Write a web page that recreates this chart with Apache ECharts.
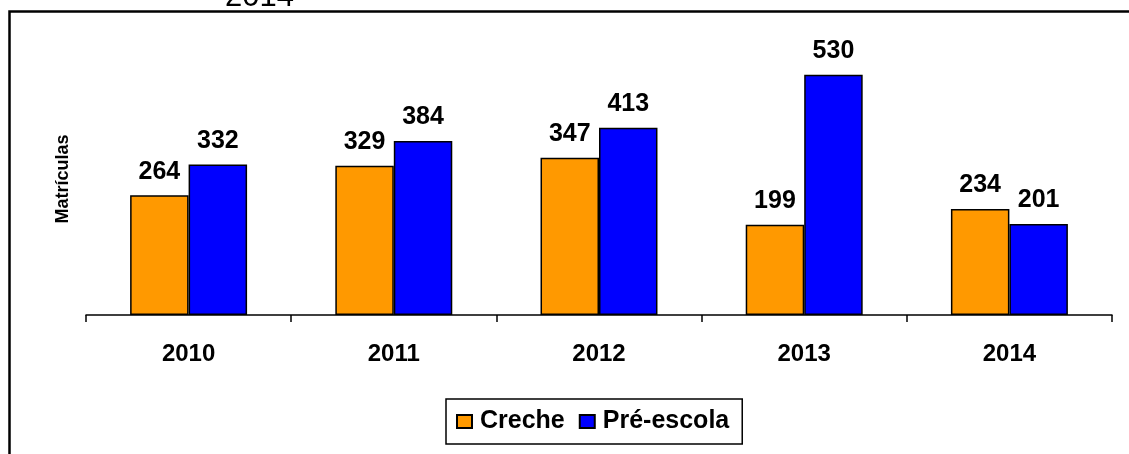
<!DOCTYPE html>
<html>
<head>
<meta charset="utf-8">
<script src="https://cdn.jsdelivr.net/npm/echarts@6/dist/echarts.min.js"></script>
<style>
  html, body { margin: 0; padding: 0; background: #fff; }
  #chart { width: 1129px; height: 454px; }
</style>
</head>
<body>
<div id="chart"></div>
<script>
  var years = ['2010', '2011', '2012', '2013', '2014'];
  var creche = [264, 329, 347, 199, 234];
  var preEscola = [332, 384, 413, 530, 201];

  var font = 'Liberation Sans, Arial, sans-serif';
  var chart = echarts.init(document.getElementById('chart'));

  chart.setOption({
    animation: false,
    textStyle: { fontFamily: font },
    title: {
      text: '2014',
      left: 220,
      top: -23,
      textStyle: { fontSize: 31, fontWeight: 'normal', color: '#000', fontFamily: font }
    },
    graphic: [{
      type: 'rect',
      shape: { x: 9.5, y: 11.5, width: 1140, height: 460 },
      style: { fill: null, stroke: '#000', lineWidth: 2.5 },
      silent: true
    }],
    legend: {
      data: ['Creche', 'Pré-escola'],
      bottom: 10,
      left: 446,
      itemWidth: 15,
      itemHeight: 13,
      itemGap: 14,
      padding: [10, 13, 10, 10],
      borderColor: '#000',
      borderWidth: 1.5,
      icon: 'rect',
      textStyle: { fontSize: 25, fontWeight: 'bold', color: '#000', fontFamily: font, padding: [0, 0, 0, 3] }
    },
    grid: { left: 86, right: 17, top: 43, bottom: 139 },
    xAxis: {
      type: 'category',
      data: years,
      axisLine: { lineStyle: { color: '#000', width: 1.5 } },
      axisTick: { show: true, length: 7, inside: false, lineStyle: { color: '#000', width: 1.5 } },
      axisLabel: { fontSize: 24, fontWeight: 'bold', color: '#000', margin: 27, fontFamily: font }
    },
    yAxis: {
      type: 'value',
      min: 0,
      max: 600,
      name: 'Matrículas',
      nameLocation: 'middle',
      nameRotate: 90,
      nameGap: 14,
      nameTextStyle: { fontSize: 18, fontWeight: 'bold', color: '#000', fontFamily: font },
      axisLine: { show: false },
      axisTick: { show: false },
      axisLabel: { show: false },
      splitLine: { show: false }
    },
    series: [
      {
        name: 'Creche',
        type: 'bar',
        data: creche,
        barWidth: '28.5%',
        barGap: '0%',
        itemStyle: { color: '#FF9900', borderColor: '#000', borderWidth: 1.5 },
        label: {
          show: true, position: 'top', distance: 11,
          fontSize: 25, fontWeight: 'bold', color: '#000', fontFamily: font
        }
      },
      {
        name: 'Pré-escola',
        type: 'bar',
        data: preEscola,
        barWidth: '28.5%',
        itemStyle: { color: '#0000FF', borderColor: '#000', borderWidth: 1.5 },
        label: {
          show: true, position: 'top', distance: 11,
          fontSize: 25, fontWeight: 'bold', color: '#000', fontFamily: font
        }
      }
    ]
  });
</script>
</body>
</html>
